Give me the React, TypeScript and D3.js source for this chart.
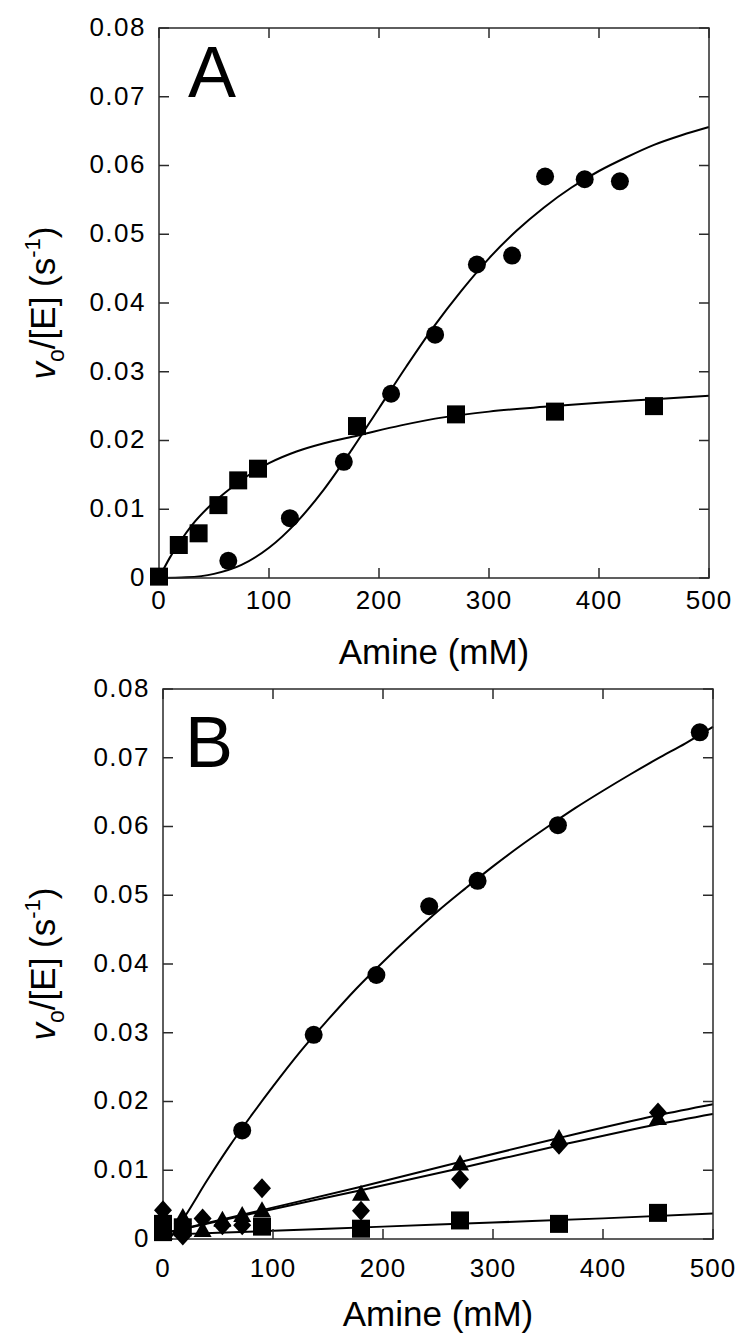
import React from "react";
import * as d3 from "d3";

// ---------- Panel A data ----------
const aCircleX = [63, 119, 168, 211, 251, 289, 321, 351, 387, 419];
const aCircleY = [0.0025, 0.0087, 0.0169, 0.0268, 0.0354, 0.0456, 0.0469, 0.0584, 0.058, 0.0577];
const aSquareX = [0, 18, 36, 54, 72, 90, 180, 270, 360, 450];
const aSquareY = [0.0002, 0.0048, 0.0065, 0.0106, 0.0142, 0.0159, 0.0221, 0.0238, 0.0242, 0.025];
const aCircleFitX = [0, 25, 50, 75, 100, 125, 150, 175, 200, 225, 250, 275, 300, 325, 350, 375, 400, 425, 450, 475, 500];
const aCircleFitY = [0, 0.0001, 0.0006, 0.0019, 0.0044, 0.0081, 0.0129, 0.0186, 0.0247, 0.0308, 0.0366, 0.0418, 0.0465, 0.0505, 0.0539, 0.0568, 0.0592, 0.0612, 0.063, 0.0644, 0.0656];
const aSquareFitX = [0, 10, 20, 30, 45, 60, 80, 100, 125, 150, 180, 220, 260, 300, 350, 400, 450, 500];
const aSquareFitY = [0, 0.003, 0.0055, 0.0077, 0.0103, 0.0124, 0.0148, 0.0167, 0.0184, 0.0196, 0.0207, 0.0222, 0.0234, 0.0242, 0.0249, 0.0255, 0.026, 0.0265];

// ---------- Panel B data ----------
const bCircleX = [72, 137, 194, 242, 286, 359, 488];
const bCircleY = [0.0158, 0.0297, 0.0384, 0.0484, 0.0521, 0.0602, 0.0737];
const bCircleFitX = [6, 20, 40, 60, 80, 100, 125, 150, 175, 200, 225, 250, 275, 300, 325, 350, 375, 400, 425, 450, 475, 500];
const bCircleFitY = [0, 0.0033, 0.0085, 0.0134, 0.0179, 0.0222, 0.0273, 0.0319, 0.0363, 0.0403, 0.0441, 0.0477, 0.051, 0.0542, 0.0572, 0.06, 0.0627, 0.0652, 0.0676, 0.0699, 0.0721, 0.0745];
const bTriX = [0, 18, 36, 54, 72, 90, 180, 270, 360, 450];
const bTriY = [0.0008, 0.0032, 0.0013, 0.0028, 0.0035, 0.0042, 0.0066, 0.011, 0.0147, 0.0176];
const bDiaX = [0, 18, 36, 54, 72, 90, 180, 270, 360, 450];
const bDiaY = [0.0042, 0.0005, 0.003, 0.002, 0.002, 0.0074, 0.0041, 0.0087, 0.0137, 0.0184];
const bSqX = [0, 0, 18, 90, 180, 270, 360, 450];
const bSqY = [0.0022, 0.001, 0.0017, 0.0018, 0.0015, 0.0027, 0.0022, 0.0038];
const bFitUpX = [0, 90, 180, 270, 360, 450, 500];
const bFitUpY = [0.0008, 0.0042, 0.0076, 0.0112, 0.0147, 0.018, 0.0196];
const bFitLoX = [0, 90, 180, 270, 360, 450, 500];
const bFitLoY = [0.0008, 0.004, 0.0071, 0.0103, 0.0136, 0.0167, 0.0182];
const bSqFitX = [0, 100, 200, 300, 400, 500];
const bSqFitY = [0.0006, 0.0012, 0.0018, 0.0024, 0.003, 0.0037];

// ---------- ticks ----------
const xTicks = [0, 100, 200, 300, 400, 500];
const yTicks = [0, 0.01, 0.02, 0.03, 0.04, 0.05, 0.06, 0.07, 0.08];
const yTickLabels = ["0", "0.01", "0.02", "0.03", "0.04", "0.05", "0.06", "0.07", "0.08"];

const FONT = "'Liberation Sans', Arial, Helvetica, sans-serif";

type Series = { xs: number[]; ys: number[]; shape: string };
type Fit = { xs: number[]; ys: number[] };

function marker(shape: string, key: string, cx: number, cy: number) {
  if (shape === "circle") return <circle key={key} cx={cx} cy={cy} r={9} fill="#000" />;
  if (shape === "square") return <rect key={key} x={cx - 9} y={cy - 9} width={18} height={18} fill="#000" />;
  if (shape === "triangle")
    return <path key={key} d={`M${cx},${cy - 9}L${cx + 9},${cy + 7}L${cx - 9},${cy + 7}Z`} fill="#000" />;
  return <path key={key} d={`M${cx},${cy - 10}L${cx + 9},${cy}L${cx},${cy + 10}L${cx - 9},${cy}Z`} fill="#000" />;
}

function Panel(props: {
  left: number; right: number; top: number; bottom: number;
  letter: string; letterX: number; letterY: number;
  tickLabelY: number; titleY: number;
  series: Series[]; fits: Fit[];
}) {
  const { left, right, top, bottom } = props;
  const x = d3.scaleLinear().domain([0, 500]).range([left, right]);
  const y = d3.scaleLinear().domain([0, 0.08]).range([bottom, top]);
  const line = d3.line<[number, number]>().x(d => x(d[0])).y(d => y(d[1])).curve(d3.curveMonotoneX);
  const tl = 10;
  const axisColor = "#2a2a2a";
  return (
    <g>
      {props.fits.map((f, i) => (
        <path key={"f" + i} d={line(f.xs.map((v, j) => [v, f.ys[j]]) as [number, number][]) || ""}
          fill="none" stroke="#000" strokeWidth={2} />
      ))}
      <rect x={left} y={top} width={right - left} height={bottom - top} fill="none" stroke={axisColor} strokeWidth={1.5} />
      {xTicks.map(t => (
        <g key={"xt" + t}>
          <line x1={x(t)} x2={x(t)} y1={bottom} y2={bottom - tl} stroke={axisColor} strokeWidth={1.5} />
          <line x1={x(t)} x2={x(t)} y1={top} y2={top + tl} stroke={axisColor} strokeWidth={1.5} />
          <text x={x(t)} y={props.tickLabelY} textAnchor="middle" fontFamily={FONT} fontSize={26} letterSpacing={1} fill="#000">{t}</text>
        </g>
      ))}
      {yTicks.map((t, i) => (
        <g key={"yt" + i}>
          <line x1={left} x2={left + tl} y1={y(t)} y2={y(t)} stroke={axisColor} strokeWidth={1.5} />
          <line x1={right} x2={right - tl} y1={y(t)} y2={y(t)} stroke={axisColor} strokeWidth={1.5} />
          <text x={left - 13} y={y(t)} dy="0.3em" textAnchor="end" fontFamily={FONT} fontSize={26} letterSpacing={1.5} fill="#000">{yTickLabels[i]}</text>
        </g>
      ))}
      {props.series.map((s, i) => s.xs.map((v, j) => marker(s.shape, `m${i}-${j}`, x(v), y(s.ys[j]))))}
      <text x={props.letterX} y={props.letterY} fontFamily={FONT} fontSize={72} fill="#000">{props.letter}</text>
      <text x={(left + right) / 2} y={props.titleY} textAnchor="middle" fontFamily={FONT} fontSize={35} fill="#000">Amine (mM)</text>
      <text transform={`translate(55,${(top + bottom) / 2}) rotate(-90)`} textAnchor="middle" fontFamily={FONT} fontSize={35} fill="#000">
        <tspan fontStyle="italic">v</tspan>
        <tspan fontSize={23} dy={9}>o</tspan>
        <tspan dy={-9}>/[E] (s</tspan>
        <tspan fontSize={22} dy={-15}>-1</tspan>
        <tspan dy={15}>)</tspan>
      </text>
    </g>
  );
}

export default function App() {
  return (
    <svg width={735} height={1334} style={{ position: "absolute", left: 0, top: 0, background: "#fff" }}>
      <rect x={0} y={0} width={735} height={1334} fill="#fff" />
      <Panel left={159} right={709} top={28} bottom={578} letter="A" letterX={188} letterY={97}
        tickLabelY={609} titleY={664}
        series={[
          { xs: aSquareX, ys: aSquareY, shape: "square" },
          { xs: aCircleX, ys: aCircleY, shape: "circle" },
        ]}
        fits={[
          { xs: aCircleFitX, ys: aCircleFitY },
          { xs: aSquareFitX, ys: aSquareFitY },
        ]} />
      <Panel left={163} right={713} top={689} bottom={1239} letter="B" letterX={185} letterY={767}
        tickLabelY={1277} titleY={1326}
        series={[
          { xs: bCircleX, ys: bCircleY, shape: "circle" },
          { xs: bTriX, ys: bTriY, shape: "triangle" },
          { xs: bDiaX, ys: bDiaY, shape: "diamond" },
          { xs: bSqX, ys: bSqY, shape: "square" },
        ]}
        fits={[
          { xs: bCircleFitX, ys: bCircleFitY },
          { xs: bFitUpX, ys: bFitUpY },
          { xs: bFitLoX, ys: bFitLoY },
          { xs: bSqFitX, ys: bSqFitY },
        ]} />
    </svg>
  );
}
